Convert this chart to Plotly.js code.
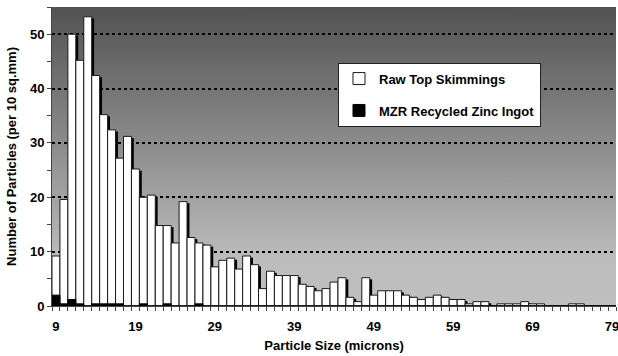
<!DOCTYPE html>
<html><head><meta charset="utf-8">
<script src="https://cdn.plot.ly/plotly-3.0.1.min.js"></script>
<style>html,body{margin:0;padding:0;background:#fff;}#chart{width:618px;height:356px;}</style>
</head><body><div id="chart"></div>
<script>
// Particle size categories (microns)
const sizes = [9,10,11,12,13,14,15,16,17,18,
  19,20,21,22,23,24,25,26,27,28,
  29,30,31,32,33,34,35,36,37,38,
  39,40,41,42,43,44,45,46,47,48,
  49,50,51,52,53,54,55,56,57,58,
  59,60,61,62,63,64,65,66,67,68,
  69,70,71,72,73,74,75,76,77,78,79];
// Raw Top Skimmings, particles per 10 sq.mm
const rawTop = [9.2,19.6,50.0,45.2,53.2,42.4,35.2,32.4,27.2,31.2,
  25.2,20.0,20.4,14.8,14.8,11.6,19.2,12.6,11.6,11.2,
  7.2,8.4,8.8,6.8,9.2,7.6,3.2,6.4,5.6,5.6,
  5.6,4.0,3.6,2.8,3.2,4.4,5.2,1.6,0.8,5.2,
  2.0,2.8,2.8,2.8,2.0,1.6,1.2,1.6,2.0,1.6,
  1.2,1.2,0.4,0.8,0.8,0,0.4,0.4,0.4,0.8,
  0.4,0.4,0,0,0,0.4,0.4,0,0,0,0];
// MZR Recycled Zinc Ingot, particles per 10 sq.mm
const mzr = [2.0,0.4,1.2,0.4,0,0.4,0.4,0.4,0.4,0,
  0,0.4,0,0,0.4,0,0,0,0.4,0,
  0,0,0,0,0,0,0,0,0,0,
  0,0,0,0,0,0,0,0,0,0,
  0,0,0,0,0,0,0,0,0,0,
  0,0,0,0,0,0,0,0,0,0,
  0,0,0,0,0,0,0,0,0,0,0];
const xTickVals = [9,19,29,39,49,59,69,79];
const yTickVals = [0,10,20,30,40,50];

const FONT = '"Liberation Sans", Arial, sans-serif';

const svg = "<svg xmlns='http://www.w3.org/2000/svg' width='100' height='100' preserveAspectRatio='none'>" +
  "<defs><linearGradient id='g' x1='0' y1='0' x2='0' y2='1'>" +
  "<stop offset='0' stop-color='#525252'/><stop offset='0.85' stop-color='#bdbdbd'/><stop offset='1' stop-color='#bfbfbf'/>" +
  "</linearGradient></defs><rect width='100' height='100' fill='url(#g)'/></svg>";
const bgSrc = 'data:image/svg+xml;charset=utf-8,' + encodeURIComponent(svg);

const traces = [
  { type:'bar', x:sizes, y:rawTop, base:-0.3, width:1, offset:-0.2,
    marker:{color:'#000', line:{width:0}}, showlegend:false, hoverinfo:'skip' },
  { type:'bar', name:'Raw Top Skimmings', legendgroup:'a', x:sizes, y:rawTop, width:1,
    marker:{color:'#ffffff', line:{color:'#1a1a1a', width:1}} },
  { type:'bar', name:'MZR Recycled Zinc Ingot', legendgroup:'b', x:sizes, y:mzr, width:1,
    marker:{color:'#000000', line:{color:'#000000', width:1}} }
];

const layout = {
  width:618, height:356,
  margin:{l:52, r:2, t:7, b:50},
  paper_bgcolor:'#ffffff', plot_bgcolor:'#bdbdbd',
  font:{family:FONT, size:13, color:'#000', weight:'bold'},
  barmode:'overlay',
  showlegend:true,
  legend:{x:0.867, xanchor:'right', y:0.814, yanchor:'top', bgcolor:'#ffffff',
    bordercolor:'#222', borderwidth:1, tracegroupgap:12,
    font:{family:FONT, size:13, color:'#000', weight:'bold'}},
  images:[{source:bgSrc, xref:'paper', yref:'paper', x:0, y:1, sizex:1, sizey:1,
    sizing:'stretch', xanchor:'left', yanchor:'top', layer:'below'}],
  xaxis:{range:[8.5,79.5], tickmode:'array', tickvals:xTickVals, ticks:'outside', ticklen:8,
    tickcolor:'rgba(0,0,0,0)', showgrid:false, zeroline:false, showline:true,
    linecolor:'#444', linewidth:1, ticklabeloverflow:'allow',
    minor:{tickmode:'linear', tick0:8.5, dtick:1, ticks:'outside', ticklen:4, tickcolor:'#444', showgrid:false},
    tickfont:{family:FONT, size:13, weight:'bold'},
    title:{text:'Particle Size (microns)', font:{family:FONT, size:13, weight:'bold'}, standoff:8}},
  yaxis:{range:[0,55], tickmode:'array', tickvals:yTickVals, ticks:'outside', ticklen:4, tickcolor:'#444',
    showgrid:true, gridcolor:'#000', gridwidth:2, griddash:'3px,3px', zeroline:false,
    showline:true, linecolor:'#444', linewidth:1,
    minor:{tickmode:'linear', tick0:5, dtick:10, ticks:'outside', ticklen:4, tickcolor:'#444', showgrid:false},
    tickfont:{family:FONT, size:13, weight:'bold'},
    title:{text:'Number of Particles (per 10 sq.mm)', font:{family:FONT, size:13, weight:'bold'}, standoff:10}}
};

Plotly.newPlot('chart', traces, layout, {displayModeBar:false, staticPlot:true});
</script></body></html>
